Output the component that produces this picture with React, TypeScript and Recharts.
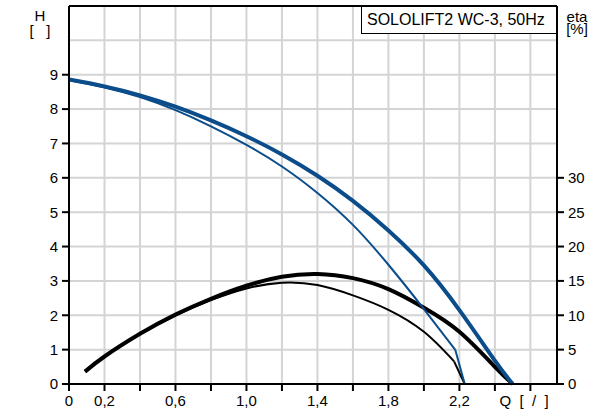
import * as React from "react";
import { LineChart, Line, XAxis, YAxis, CartesianGrid, ReferenceLine } from "recharts";

// tick values / labels
const hTicks = [0, 1, 2, 3, 4, 5, 6, 7, 8, 9];
const hGrid = [1, 2, 3, 4, 5, 6, 7, 8, 9, 10];
const etaTicks = [0, 5, 10, 15, 20, 25, 30];
const qTicks = [0, 0.2, 0.4, 0.6, 0.8, 1.0, 1.2, 1.4, 1.6, 1.8, 2.0, 2.2, 2.4, 2.6];
const qTickLabels = ["0", "0,2", "", "0,6", "", "1,0", "", "1,4", "", "1,8", "", "2,2", "", "Q  [  /  ]"];

// head curves (H)
const qHeadMax = [0, 0.2, 0.4, 0.6, 0.8, 1.0, 1.2, 1.4, 1.6, 1.8, 2.0, 2.2, 2.4, 2.5];
const headMax = [8.86, 8.66, 8.4, 8.07, 7.67, 7.21, 6.68, 6.06, 5.33, 4.47, 3.45, 2.15, 0.68, 0];
const qHeadMin = [0, 0.2, 0.4, 0.6, 0.8, 1.0, 1.2, 1.4, 1.6, 1.8, 2.0, 2.177];
const headMin = [8.84, 8.63, 8.35, 7.97, 7.5, 6.96, 6.33, 5.56, 4.63, 3.47, 2.18, 0.99];
const qHeadMinTail = [2.177, 2.23];
const headMinTail = [0.99, 0];

// efficiency curves (eta %)
const qEtaMax = [0.09, 0.2, 0.4, 0.6, 0.8, 1.0, 1.2, 1.4, 1.6, 1.8, 2.0, 2.2, 2.4, 2.5];
const etaMax = [1.8, 4.0, 7.3, 10.1, 12.4, 14.3, 15.6, 16.0, 15.4, 13.8, 11.1, 7.6, 2.5, 0];
const qEtaMin = [0.09, 0.2, 0.4, 0.6, 0.8, 1.0, 1.2, 1.4, 1.6, 1.8, 2.0, 2.17];
const etaMin = [1.8, 4.0, 7.3, 10.0, 12.2, 13.9, 14.75, 14.4, 12.9, 10.8, 7.6, 3.3];
const qEtaMinTail = [2.17, 2.23];
const etaMinTail = [3.3, 0];

const toPts = (qs: number[], vs: number[]) => qs.map((q, i) => ({ q, v: vs[i] }));

const BLUE = "#0b4d8a";
const FONT = "'Liberation Sans', Arial, sans-serif";
const axisStyle = { stroke: "#000", strokeWidth: 2 };

function QTick({ x, y, index }: any) {
  const label = qTickLabels[index] || "";
  if (!label) return null;
  const isUnit = label.startsWith("Q");
  return (
    <text
      x={isUnit ? x - 31 : x}
      y={y}
      dy="0.71em"
      textAnchor={isUnit ? "start" : "middle"}
      fontSize={15}
      fill="#000"
      style={{ whiteSpace: "pre" }}
    >
      {label}
    </text>
  );
}

export default function App() {
  return (
    <div style={{ position: "absolute", left: 0, top: 0, width: 609, height: 412, background: "#fff", fontFamily: FONT }}>
      <LineChart width={609} height={412} margin={{ top: 6, right: 0, bottom: 0, left: 0 }}>
        <CartesianGrid yAxisId="h" stroke="#d4d4d4" strokeWidth={2} horizontalValues={hGrid} />
        <XAxis
          type="number"
          dataKey="q"
          domain={[0, 2.75]}
          ticks={qTicks}
          allowDataOverflow
          height={28}
          tickSize={7}
          tickMargin={4}
          axisLine={axisStyle}
          tickLine={axisStyle}
          tick={<QTick />}
          interval={0}
        />
        <YAxis
          yAxisId="h"
          domain={[0, 11]}
          ticks={hTicks}
          width={69}
          tickSize={7}
          tickMargin={4}
          axisLine={axisStyle}
          tickLine={axisStyle}
          tick={{ fontSize: 15, fill: "#000" }}
          interval={0}
        />
        <YAxis
          yAxisId="eta"
          orientation="right"
          domain={[0, 55]}
          ticks={etaTicks}
          width={52}
          tickSize={7}
          tickMargin={4}
          axisLine={axisStyle}
          tickLine={axisStyle}
          tick={{ fontSize: 15, fill: "#000" }}
          interval={0}
        />
        <ReferenceLine yAxisId="h" y={11} stroke="#000" strokeWidth={2} />

        <Line yAxisId="eta" data={toPts(qEtaMin, etaMin)} dataKey="v" type="natural" stroke="#000" strokeWidth={2} dot={false} activeDot={false} isAnimationActive={false} />
        <Line yAxisId="eta" data={toPts(qEtaMinTail, etaMinTail)} dataKey="v" type="linear" stroke="#000" strokeWidth={2} dot={false} activeDot={false} isAnimationActive={false} />
        <Line yAxisId="eta" data={toPts(qEtaMax, etaMax)} dataKey="v" type="natural" stroke="#000" strokeWidth={4} dot={false} activeDot={false} isAnimationActive={false} />

        <Line yAxisId="h" data={toPts(qHeadMin, headMin)} dataKey="v" type="natural" stroke={BLUE} strokeWidth={2} dot={false} activeDot={false} isAnimationActive={false} />
        <Line yAxisId="h" data={toPts(qHeadMinTail, headMinTail)} dataKey="v" type="linear" stroke={BLUE} strokeWidth={2} dot={false} activeDot={false} isAnimationActive={false} />
        <Line yAxisId="h" data={toPts(qHeadMax, headMax)} dataKey="v" type="natural" stroke={BLUE} strokeWidth={4} dot={false} activeDot={false} isAnimationActive={false} />
      </LineChart>

      <div style={{ position: "absolute", left: 25, top: 8, width: 30, textAlign: "center", fontSize: 15, lineHeight: "15px", whiteSpace: "pre" }}>
        {"H\n[   ]"}
      </div>
      <div style={{ position: "absolute", left: 557, top: 11, width: 40, textAlign: "center", fontSize: 15, lineHeight: "11.5px", whiteSpace: "pre" }}>
        {"eta\n[%]"}
      </div>
      <div
        style={{
          position: "absolute", left: 361, top: 6, width: 196, height: 28, boxSizing: "border-box",
          border: "1px solid #000", background: "#fff", fontSize: 16, lineHeight: "26px", paddingLeft: 5,
        }}
      >
        SOLOLIFT2 WC-3, 50Hz
      </div>
    </div>
  );
}
